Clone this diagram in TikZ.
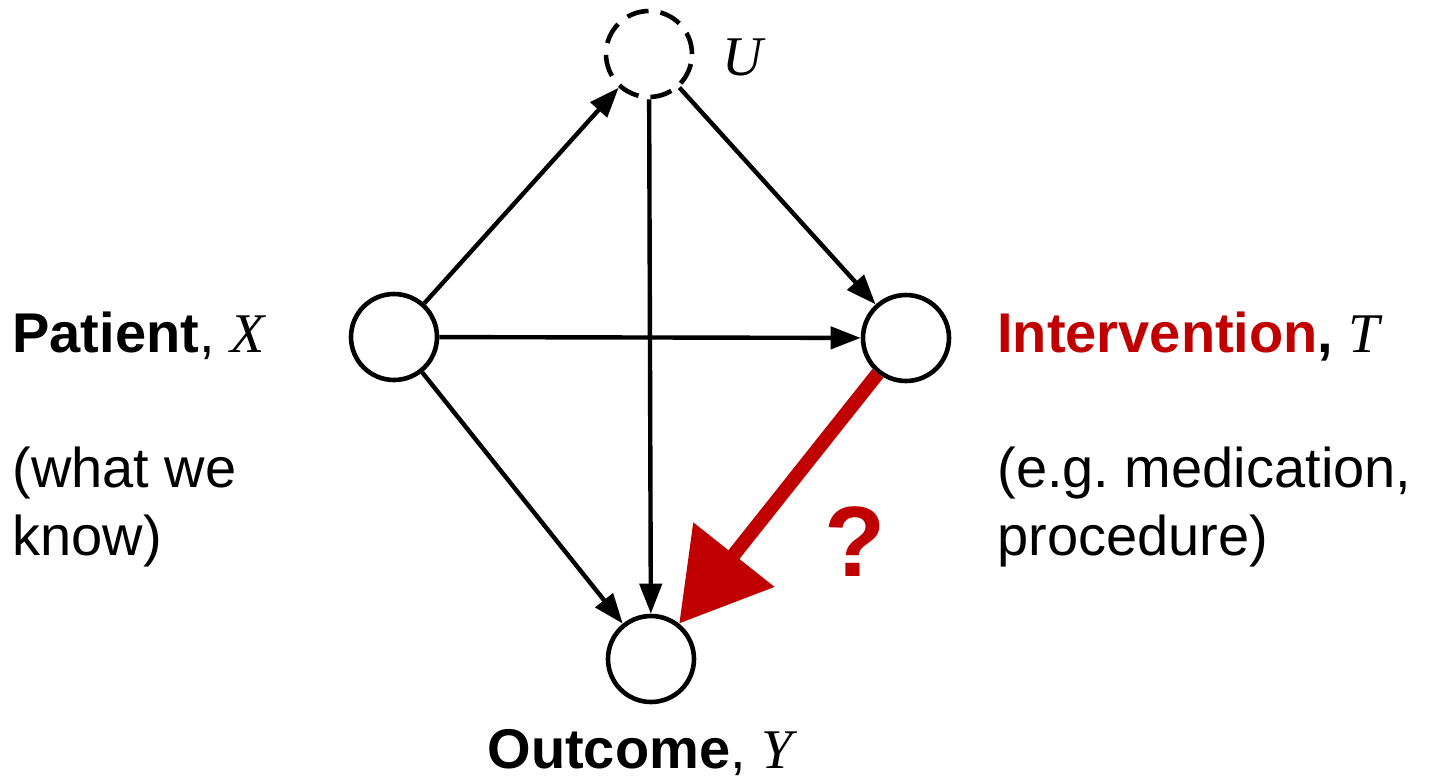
\documentclass[tikz,border=0pt]{standalone}
\usepackage{fontspec}
\setmainfont{Liberation Sans}
\newfontfamily\varfont{Liberation Serif}
\newcommand{\vr}[1]{{\varfont\itshape #1}}
\usetikzlibrary{arrows.meta}
\definecolor{dred}{HTML}{C00000}
\begin{document}
\begin{tikzpicture}[x=0.5pt,y=-0.5pt,
  var/.style={circle,draw=black,line width=2.3pt,minimum size=43pt,inner sep=0pt,fill=white},
  arr/.style={line width=2.2pt,-{Triangle[length=15pt,width=11pt]}},
  redarr/.style={draw=dred,line width=7pt,-{Triangle[length=44pt,width=50pt]}},
  lbl/.style={font=\fontsize{28pt}{34pt}\selectfont\frenchspacing,inner sep=0pt},
]
\useasboundingbox (0,0) rectangle (1437,782);
\node[var,dashed,dash pattern=on 11pt off 6pt] (U) at (649,54) {};
\node[var] (X) at (394,337) {};
\node[var] (T) at (906,338) {};
\node[var] (Y) at (651,659) {};

\draw[arr] (X) -- (U);
\draw[arr] (U) -- (Y);
\draw[arr] (U) -- (T);
\draw[arr] (X) -- (T);
\draw[arr] (X) -- (Y);
\draw[redarr] (T) -- (Y);

\node[lbl,anchor=base west] (xl) at (12,352) {\textbf{Patient}, \vr{X}};
\node[lbl,anchor=base west] (xd1) at (12,487) {(what we};
\node[lbl,anchor=base west] (xd2) at (12,555) {know)};
\node[lbl,anchor=base west] (tl) at (997,352) {\textcolor{dred}{\textbf{Intervention}}\textbf{,} \vr{T}};
\node[lbl,anchor=base west] (td1) at (997,487) {(e.g. medication,};
\node[lbl,anchor=base west] (td2) at (997,555) {procedure)};
\node[lbl,anchor=base] (yl) at (640,768) {\textbf{Outcome}, \vr{Y}};
\node[lbl,anchor=west] (ul) at (722,57) {\vr{U}};
\node[inner sep=0pt,font=\fontsize{50pt}{60pt}\selectfont\bfseries,text=dred] (q) at (855,542) {?};
\end{tikzpicture}
\end{document}
